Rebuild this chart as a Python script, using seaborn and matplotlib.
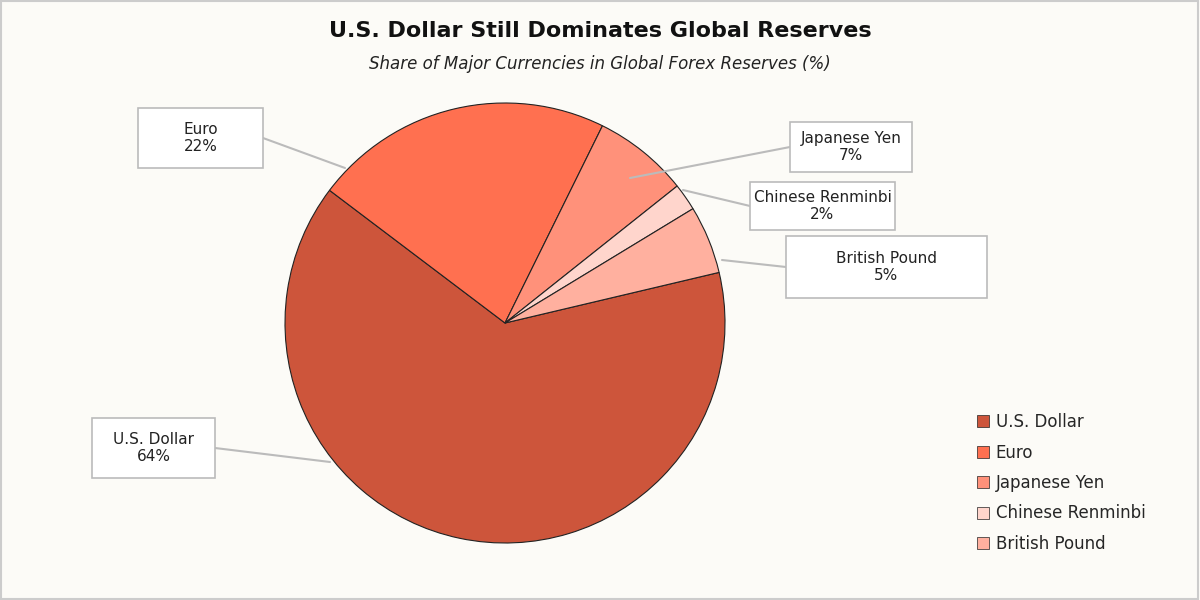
import matplotlib
matplotlib.use("Agg")
import matplotlib.pyplot as plt
import seaborn as sns
from matplotlib.patches import Rectangle

# data
currencies = ["U.S. Dollar", "Euro", "Japanese Yen", "Chinese Renminbi", "British Pound"]
shares = [64, 22, 7, 2, 5]
colors = ["#CD553B", "#FF7050", "#FF917A", "#FFD5CC", "#FFB09F"]

# label boxes in pixel coords: (left, top, width, height), leader end point
label_boxes = [(92, 418, 123, 60), (138, 108, 125, 60), (790, 122, 122, 50),
               (750, 182, 145, 48), (786, 236, 201, 62)]
leader_ends = [(330, 462), (345, 168), (630, 178), (683, 190), (722, 260)]

sns.set_theme(style="white")
bg = "#FCFBF7"
fig = plt.figure(figsize=(12, 6), dpi=100, facecolor=bg)
ax = fig.add_axes([0, 0, 1, 1])
ax.set_facecolor(bg)

cx, cy, R = 505, 323, 220


def px(x, y):
    return (x - cx) / R, (cy - y) / R


ax.set_xlim(-cx / R, (1200 - cx) / R)
ax.set_ylim((cy - 600) / R, cy / R)
ax.axis("off")

wedges, _ = ax.pie(shares, colors=colors, startangle=13.3, counterclock=False,
                   radius=1, center=(0, 0), frame=True,
                   wedgeprops=dict(edgecolor="#222222", linewidth=0.8))
ax.set_xlim(-cx / R, (1200 - cx) / R)
ax.set_ylim((cy - 600) / R, cy / R)
ax.set_aspect("auto")
ax.axis("off")

for name, val, (l, t, w, h), (ex, ey) in zip(currencies, shares, label_boxes, leader_ends):
    bx, by = px(l + w / 2, t + h / 2)
    # leader line from box edge to slice
    sx = l + w if ex > l + w else l
    ax.plot(*zip(px(sx, t + h / 2), px(ex, ey)), color="#BBBBBB", lw=1.5, zorder=3)
    x0, y0 = px(l, t + h)
    ax.add_patch(Rectangle((x0, y0), w / R, h / R, facecolor="white",
                           edgecolor="#BBBBBB", lw=1.2, zorder=4))
    ax.text(bx, by, f"{name}\n{val}%", ha="center", va="center", fontsize=11,
            color="#222222", zorder=5, linespacing=1.1)

fig.text(0.5, 0.948, "U.S. Dollar Still Dominates Global Reserves", ha="center",
         va="center", fontsize=16, fontweight="bold", color="#111111")
fig.text(0.5, 0.893, "Share of Major Currencies in Global Forex Reserves (%)",
         ha="center", va="center", fontsize=12, style="italic", color="#222222")

leg = fig.legend(wedges, currencies, loc="center left", bbox_to_anchor=(0.802, 0.195),
                 frameon=False, fontsize=12, handlelength=0.7, handleheight=0.7,
                 handletextpad=0.4, labelspacing=0.75)
for h in leg.legend_handles:
    h.set_linewidth(0.5)

fig.add_artist(Rectangle((0.001, 0.002), 0.997, 0.996, transform=fig.transFigure,
                         fill=False, edgecolor="#CCCCCC", lw=1.5))

fig.savefig("out.png", dpi=100, facecolor=bg)
